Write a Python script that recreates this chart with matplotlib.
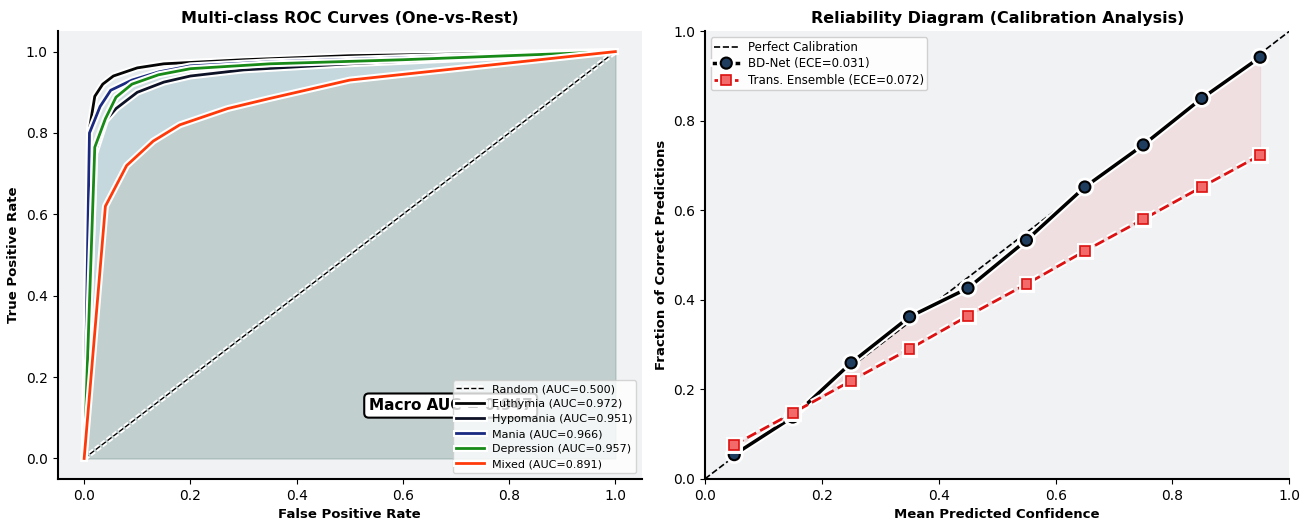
import numpy as np
import matplotlib
matplotlib.use('Agg')
import matplotlib.pyplot as plt
from matplotlib import patheffects as pe

# ROC data
classes = ['Euthymia', 'Hypomania', 'Mania', 'Depression', 'Mixed']
aucs = [0.972, 0.951, 0.966, 0.957, 0.891]
colors = ['#050505', '#0d1226', '#1a2a80', '#178a17', '#ff3a0a']
fill_colors = ['#5a9aa8', '#5a9aa8', '#5a9aa8', '#5a9aa8', '#b0a080']
fill_alpha = [0.08, 0.08, 0.08, 0.08, 0.15]
fprs = [
    [0, 0.01, 0.02, 0.035, 0.055, 0.10, 0.15, 0.30, 0.50, 1.0],
    [0, 0.02, 0.04, 0.06, 0.10, 0.15, 0.20, 0.30, 0.50, 1.0],
    [0, 0.01, 0.03, 0.05, 0.09, 0.14, 0.20, 0.35, 0.60, 1.0],
    [0, 0.02, 0.04, 0.06, 0.09, 0.14, 0.20, 0.35, 0.60, 1.0],
    [0, 0.04, 0.08, 0.13, 0.18, 0.27, 0.35, 0.50, 1.0],
]
tprs = [
    [0, 0.81, 0.89, 0.92, 0.94, 0.96, 0.97, 0.98, 0.99, 1.0],
    [0, 0.75, 0.83, 0.86, 0.90, 0.925, 0.94, 0.955, 0.97, 1.0],
    [0, 0.80, 0.865, 0.905, 0.93, 0.95, 0.965, 0.975, 0.985, 1.0],
    [0, 0.765, 0.835, 0.888, 0.92, 0.943, 0.958, 0.97, 0.98, 1.0],
    [0, 0.62, 0.72, 0.78, 0.82, 0.86, 0.885, 0.93, 1.0],
]

# calibration data
bins = [0.05, 0.15, 0.25, 0.35, 0.45, 0.55, 0.65, 0.75, 0.85, 0.95]
bdnet = [0.054, 0.138, 0.259, 0.362, 0.426, 0.533, 0.652, 0.746, 0.850, 0.942]
trans = [0.076, 0.147, 0.219, 0.290, 0.364, 0.435, 0.509, 0.580, 0.652, 0.723]

bg = '#f1f2f4'
glow = lambda w: [pe.Stroke(linewidth=w + 3, foreground='white'), pe.Normal()]

fig, (ax1, ax2) = plt.subplots(1, 2, figsize=(13.09, 5.21), dpi=100)
fig.subplots_adjust(left=0.044, right=0.985, bottom=0.081, top=0.94, wspace=0.108)

#left: ROC
ax1.set_facecolor(bg)
ax1.plot([0, 1], [0, 1], 'k--', lw=1, label='Random (AUC=0.500)', path_effects=glow(1))
for name, auc, c, fc, fa, f, t in zip(classes, aucs, colors, fill_colors, fill_alpha, fprs, tprs):
    ax1.fill_between(f, t, color=fc, alpha=fa, lw=1)
    ax1.plot(f, t, color=c, lw=2, label=f'{name} (AUC={auc:.3f})', path_effects=glow(2))

macro = np.mean(aucs)
ax1.text(0.69, 0.13, f'Macro AUC = {macro:.3f}', ha='center', va='center',
         fontsize=11, fontweight='bold',
         bbox=dict(boxstyle='round,pad=0.3', facecolor='white', edgecolor='black', lw=1.5))
ax1.legend(loc='lower right', fontsize=8, framealpha=0.8, handlelength=2.5,
           handletextpad=0.7, borderpad=0.35, labelspacing=0.45)
ax1.set_xlim(-0.05, 1.05)
ax1.set_ylim(-0.05, 1.05)
ax1.set_xlabel('False Positive Rate', fontsize=9.5, fontweight='bold')
ax1.set_ylabel('True Positive Rate', fontsize=9.5, fontweight='bold')
ax1.set_title('Multi-class ROC Curves (One-vs-Rest)', fontsize=11.5, fontweight='bold')

#right: reliability diagram
ax2.set_facecolor(bg)
ax2.plot([0, 1], [0, 1], 'k--', lw=1.2, label='Perfect Calibration')
ax2.fill_between(bins, bdnet, trans, color='#e04040', alpha=0.1, edgecolor='#e04040', lw=0.8)
ax2.plot(bins, bdnet, '-o', color='black', lw=2.5, ms=8, mfc='#1f3d5f', mec='black', mew=1.5,
         label='BD-Net (ECE=0.031)', path_effects=glow(2.5))
ax2.plot(bins, trans, '--s', color='#dd1111', lw=2, ms=7, mfc='#f26a6a', mec='#dd1111', mew=1.2,
         label='Trans. Ensemble (ECE=0.072)', path_effects=glow(2))
ax2.legend(loc='upper left', fontsize=8.5, framealpha=0.9, borderpad=0.3, labelspacing=0.3)
ax2.set_xlim(0, 1)
ax2.set_ylim(0, 1)
ax2.set_xlabel('Mean Predicted Confidence', fontsize=9.5, fontweight='bold')
ax2.set_ylabel('Fraction of Correct Predictions', fontsize=9.5, fontweight='bold')
ax2.set_title('Reliability Diagram (Calibration Analysis)', fontsize=11.5, fontweight='bold')

for ax in (ax1, ax2):
    ax.spines['top'].set_visible(False)
    ax.spines['right'].set_visible(False)
    ax.spines['left'].set_linewidth(1.5)
    ax.spines['bottom'].set_linewidth(1.5)
    ax.tick_params(labelsize=10)

plt.savefig('out.png', dpi=100)
